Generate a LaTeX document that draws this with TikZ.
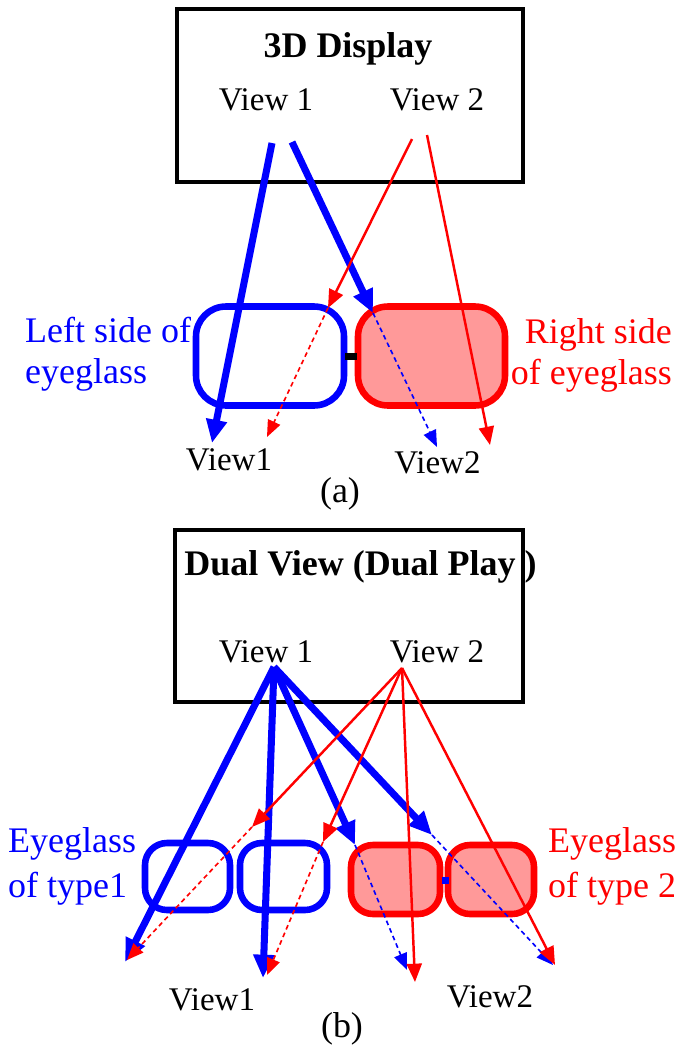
\documentclass[tikz,border=0pt]{standalone}
\usepackage{fontspec}
\setmainfont{Liberation Serif}
\usetikzlibrary{arrows.meta}
\definecolor{myblue}{RGB}{0,0,255}
\definecolor{myred}{RGB}{255,0,0}
\definecolor{lenspink}{RGB}{255,153,153}
\begin{document}
\begin{tikzpicture}[x=0.03cm,y=-0.03cm,
  dispbox/.style={draw=black, line width=2.6pt, inner sep=0pt},
  titletxt/.style={inner sep=0pt, anchor=base, font=\fontsize{30.7pt}{36pt}\selectfont\bfseries},
  viewtxt/.style={inner sep=0pt, anchor=base, font=\fontsize{28.2pt}{34pt}\selectfont},
  labtxt/.style={inner sep=0pt, font=\fontsize{30.7pt}{35pt}\selectfont},
  bluelens/.style={draw=myblue, line width=5.6pt, fill=white, inner sep=0pt},
  redlens/.style={draw=myred, line width=5.6pt, fill=lenspink, inner sep=0pt},
  bthick/.style={draw=myblue, line width=6pt, -{Triangle[length=0.7cm,width=0.6cm]}},
  rthin/.style={draw=myred, line width=2.1pt, -{Triangle[length=0.55cm,width=0.45cm]}},
  bdash/.style={draw=myblue, line width=1.4pt, dash pattern=on 4pt off 3pt, -{Triangle[length=0.5cm,width=0.4cm]}},
  rdash/.style={draw=myred, line width=1.4pt, dash pattern=on 4pt off 3pt, -{Triangle[length=0.5cm,width=0.4cm]}}
]
\useasboundingbox (0,0) rectangle (676,1050);

% ---------------- (a) ----------------
\node[dispbox, minimum width=10.38cm, minimum height=5.19cm] (boxa) at (350,95.5) {};
\node[titletxt] (titlea) at (348,57) {3D Display};
\node[viewtxt] (v1a) at (266,110) {View 1};
\node[viewtxt] (v2a) at (437,110) {View 2};

\node[bluelens, minimum width=4.44cm, minimum height=2.97cm, rounded corners=0.9cm] (lla) at (270,356) {};
\node[redlens, minimum width=4.41cm, minimum height=2.97cm, rounded corners=0.9cm] (rla) at (431.5,356) {};
\node[fill=black, inner sep=0pt, minimum width=0.36cm, minimum height=0.21cm] (bra) at (351,356.5) {};

\node[labtxt, text=myblue, anchor=base west, align=left] (lefta) at (25,383) {Left side of\\eyeglass};
\node[labtxt, text=myred, anchor=base east, align=right] (righta) at (672,384) {Right side\\of eyeglass};

\coordinate (ab1s) at (272,143);
\coordinate (ab1e) at (212,443);
\coordinate (ab2s) at (292,142);
\coordinate (ab2m) at (373,313);
\coordinate (ab2e) at (437,447);
\coordinate (ar1s) at (412,139);
\coordinate (ar1m) at (328,308);
\coordinate (ar1e) at (267,437);
\coordinate (ar2s) at (427,135);
\coordinate (ar2e) at (490,445);

\draw[bthick] (ab1s) -- (ab1e);
\draw[bthick] (ab2s) -- (ab2m);
\draw[bdash] (ab2m) -- (ab2e);
\draw[rthin] (ar1s) -- (ar1m);
\draw[rdash] (ar1m) -- (ar1e);
\draw[rthin] (ar2s) -- (ar2e);

\node[viewtxt] (o1a) at (229,470) {View1};
\node[viewtxt] (o2a) at (437.5,473) {View2};
\node[viewtxt, font=\fontsize{30.7pt}{36pt}\selectfont] (capa) at (340,502) {(a)};

% ---------------- (b) ----------------
\node[dispbox, minimum width=10.44cm, minimum height=5.16cm] (boxb) at (349,616) {};
\node[titletxt] (titleb) at (360.5,575) {Dual View (Dual Play )};
\node[viewtxt] (v1b) at (266,662) {View 1};
\node[viewtxt] (v2b) at (437,662) {View 2};

\node[bluelens, minimum width=2.55cm, minimum height=2.01cm, rounded corners=0.66cm] (bl1) at (187.5,876.5) {};
\node[bluelens, minimum width=2.61cm, minimum height=2.01cm, rounded corners=0.66cm] (bl2) at (283.5,876.5) {};
\node[redlens, minimum width=2.67cm, minimum height=2.07cm, rounded corners=0.66cm] (rl1) at (395.5,879.5) {};
\node[redlens, minimum width=2.58cm, minimum height=2.07cm, rounded corners=0.66cm] (rl2) at (491,879.5) {};
\node[fill=myblue, inner sep=0pt, minimum size=0.21cm] (brb) at (445,880) {};

\node[labtxt, text=myblue, anchor=base west, align=left, font=\fontsize{30.7pt}{37.6pt}\selectfont] (leftb) at (8,897) {Eyeglass\\of type1};
\node[labtxt, text=myred, anchor=base west, align=left, font=\fontsize{30.7pt}{37.6pt}\selectfont] (rightb) at (548,897) {Eyeglass\\of type 2};

\coordinate (bs) at (274,667);
\coordinate (rs) at (402,668);
\coordinate (bb1e) at (125,962);
\coordinate (bb2e) at (263,978);
\coordinate (bb3m) at (355,845);
\coordinate (bb3e) at (407,970);
\coordinate (bb4m) at (432,835);
\coordinate (bb4e) at (553,965);
\coordinate (br1m) at (252,827);
\coordinate (br1e) at (127,960);
\coordinate (br2m) at (323,842);
\coordinate (br2e) at (267,975);
\coordinate (br3e) at (415,982);
\coordinate (br4e) at (555,965);

\draw[bthick] (bs) -- (bb1e);
\draw[bthick] (bs) -- (bb2e);
\draw[bthick] (bs) -- (bb3m);
\draw[bthick] (bs) -- (bb4m);
\draw[bdash] (bb3m) -- (bb3e);
\draw[bdash] (bb4m) -- (bb4e);
\draw[rthin] (rs) -- (br1m);
\draw[rthin] (rs) -- (br2m);
\draw[rthin] (rs) -- (br3e);
\draw[rthin] (rs) -- (br4e);
\draw[rdash] (br1m) -- (br1e);
\draw[rdash] (br2m) -- (br2e);

\node[viewtxt] (o1b) at (212,1010) {View1};
\node[viewtxt] (o2b) at (490,1007) {View2};
\node[viewtxt, font=\fontsize{30.7pt}{36pt}\selectfont] (capb) at (342,1037) {(b)};
\end{tikzpicture}
\end{document}
